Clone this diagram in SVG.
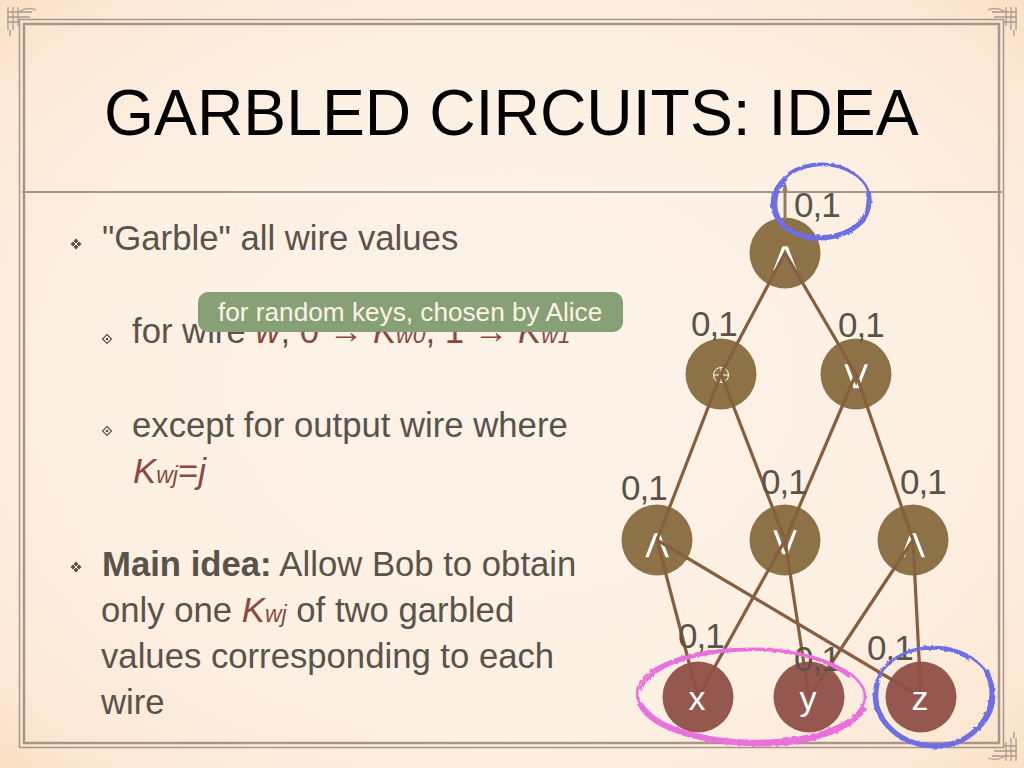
<svg xmlns="http://www.w3.org/2000/svg" width="1024" height="768" viewBox="0 0 1024 768">
<style>
text{font-family:"Liberation Sans",Arial,sans-serif}
.title{font-size:64.3px;fill:#000}
.b{font-size:34.7px;fill:#59534a}
.k{fill:#8a4a3f;font-style:italic}
.s{font-size:23px}
.lab{font-size:35px;fill:#59534a;letter-spacing:-1px}
.frame{fill:none;stroke:#a8968a}
.gate{fill:#8c7246}
.inp{fill:#8f4f47;fill-opacity:.95}
.e{stroke:#875f3e;stroke-width:3.2;fill:none}
.g{fill:#fff;stroke:#8c7246;stroke-width:1.4px;font-size:44px;text-anchor:middle;font-family:"DejaVu Sans",sans-serif}
.in{fill:#fff;font-size:34px;text-anchor:middle}
.orn{fill:none;stroke:#ab9a8c;stroke-width:1.3}
.blue{fill:none;stroke:#6e6ee6}
.pink{fill:none;stroke:#ea70dc}
</style>
<defs>
<radialGradient id="bg" cx="50%" cy="50%" r="72%">
<stop offset="0" stop-color="#fdf3e9"/><stop offset=".6" stop-color="#fdf0e3"/><stop offset=".85" stop-color="#fce9d7"/><stop offset="1" stop-color="#fadfc3"/>
</radialGradient>
<filter id="rough" x="-10%" y="-10%" width="120%" height="120%">
<feTurbulence type="fractalNoise" baseFrequency=".25" numOctaves="2" seed="4"/>
<feDisplacementMap in="SourceGraphic" scale="3"/>
</filter>
<g id="bul"><path d="M0-5.500 5.500 0 0 5.500-5.500 0Z" fill="#59534a"/><path d="M-2.800-2.800 2.800 2.800M2.800-2.800-2.800 2.800" stroke="#fdf0e3" stroke-width="1"/></g>
<g id="sub"><path d="M0-4.500 4.500 0 0 4.500-4.500 0Z" fill="none" stroke="#59534a" stroke-width="1.200"/><circle r="1.300" fill="#59534a"/></g>
<g id="orn" class="orn"><path d="M8 7V30M13 7V30M18 7V26M7 12H32M7 17H30M7 22H20M20 11Q28 7 36 10M10 30V36"/></g>
</defs>
<rect width="1024" height="768" fill="url(#bg)"/>
<g id="frame">
<rect class="frame" x="19.500" y="19.500" width="984" height="728" stroke-width="1.500"/>
<rect class="frame" x="24" y="24" width="975" height="719" stroke-width="2.500"/>
<path class="frame" d="M22 192H1002" stroke-width="2"/>
<use href="#orn"/>
<use href="#orn" transform="translate(1024,0) scale(-1,1)"/>
<use href="#orn" transform="rotate(180 512 384)"/>
</g>
<text class="title" x="104" y="135">GARBLED CIRCUITS: IDEA</text>
<g id="body">
<use href="#bul" x="76" y="244"/>
<text class="b" x="102" y="250">"Garble" all wire values</text>
<use href="#sub" x="107" y="339"/>
<text class="b" x="132" y="343">for wire <tspan class="k">w</tspan>, <tspan fill="#8a4a3f">0 → </tspan><tspan class="k">K</tspan><tspan class="k s">w0</tspan>, <tspan fill="#8a4a3f">1 → </tspan><tspan class="k">K</tspan><tspan class="k s">w1</tspan></text>
<use href="#sub" x="107" y="431"/>
<text class="b" x="132" y="437">except for output wire where</text>
<text class="b" x="133" y="483"><tspan class="k">K</tspan><tspan class="k s">wj</tspan><tspan fill="#8a4a3f">=</tspan><tspan class="k">j</tspan></text>
<use href="#bul" x="76" y="567"/>
<text class="b" x="102" y="576"><tspan font-weight="bold">Main idea:</tspan> Allow Bob to obtain</text>
<text class="b" x="101" y="622">only one <tspan class="k">K</tspan><tspan class="k s">wj</tspan> of two garbled</text>
<text class="b" x="101" y="668">values corresponding to each</text>
<text class="b" x="101" y="714">wire</text>
</g>
<g id="tooltip">
<rect x="198" y="292" width="425" height="40" rx="10" fill="#87a076"/>
<text x="218" y="321" font-size="26.200" fill="#fdf3e8">for random keys, chosen by Alice</text>
</g>
<g id="gate-and-top"><circle class="gate" cx="785" cy="253" r="35.500"/><text class="g" transform="translate(785,271) scale(1.25,1)">∧</text></g>
<g id="gate-xor"><circle class="gate" cx="721" cy="374" r="35.500"/><g fill="none" stroke="#fff" stroke-width="1"><circle cx="721" cy="375" r="7.500"/><path d="M713 375H729M721 367V383"/></g></g>
<g id="gate-or"><circle class="gate" cx="856" cy="374" r="35.500"/><text class="g" transform="translate(856,389) scale(1.25,1)">∨</text></g>
<g id="gate-and-left"><circle class="gate" cx="657" cy="540" r="35.500"/><text class="g" transform="translate(657,558) scale(1.25,1)">∧</text></g>
<g id="gate-or-mid"><circle class="gate" cx="785" cy="540" r="35.500"/><text class="g" transform="translate(785,555) scale(1.25,1)">∨</text></g>
<g id="gate-and-right"><circle class="gate" cx="913" cy="540" r="35.500"/><text class="g" transform="translate(913,558) scale(1.25,1)">∧</text></g>
<g id="connectors">
<path d="M785 220V185" stroke="#9a7a5c" stroke-width="3" fill="none"/>
<path d="M785 182l-2.500 9h5Z" fill="#9a7a5c"/>
<path class="e" d="M785 253 721 374M785 253 856 374M721 374 657 540M721 374 785 540M856 374 785 540M856 374 913 540M657 540 698 697M657 540 921 697M785 540 698 697M785 540 809 697M913 540 809 697M913 540 921 697"/>
</g>
<g id="input-x"><circle class="inp" cx="698" cy="697" r="35.500"/><text class="in" x="697" y="710">x</text></g>
<g id="input-y"><circle class="inp" cx="809" cy="697" r="35.500"/><text class="in" x="808" y="710">y</text></g>
<g id="input-z"><circle class="inp" cx="921" cy="697" r="35.500"/><text class="in" x="920" y="710">z</text></g>
<g id="labels">
<text class="lab" x="794" y="217">0,1</text>
<text class="lab" x="691" y="336">0,1</text>
<text class="lab" x="838" y="337">0,1</text>
<text class="lab" x="621" y="500">0,1</text>
<text class="lab" x="761" y="494">0,1</text>
<text class="lab" x="900" y="494">0,1</text>
<text class="lab" x="678" y="648">0,1</text>
<text class="lab" x="794" y="671">0,1</text>
<text class="lab" x="867" y="660">0,1</text>
</g>
<g id="ovals" filter="url(#rough)">
<g transform="rotate(-3 821 202)"><ellipse class="blue" cx="821" cy="202" rx="49" ry="37" stroke-width="2.500"/><path class="blue" stroke-width="5" d="M787 176C772 190 770 212 785 226C805 244 845 240 862 222C868 214 870 205 869 195"/><path class="blue" stroke-width="3" d="M790 172C810 160 840 162 856 176"/></g>
<g transform="rotate(1 752 696)"><ellipse class="pink" cx="751" cy="695" rx="114" ry="46" stroke-width="2.500"/><path class="pink" stroke-width="6" d="M640 705C655 735 720 745 770 743C815 741 855 725 864 705"/><path class="pink" stroke-width="3.500" d="M640 692C650 665 700 650 760 649C800 650 830 660 850 675"/></g>
<ellipse class="blue" cx="934" cy="696" rx="60" ry="49" stroke-width="2.500"/><path class="blue" stroke-width="5" d="M878 680C868 715 895 745 935 746C965 746 990 725 992 695C992 685 990 678 986 670"/><path class="blue" stroke-width="2.500" d="M882 670C900 645 950 642 970 660"/>
</g>
</svg>
